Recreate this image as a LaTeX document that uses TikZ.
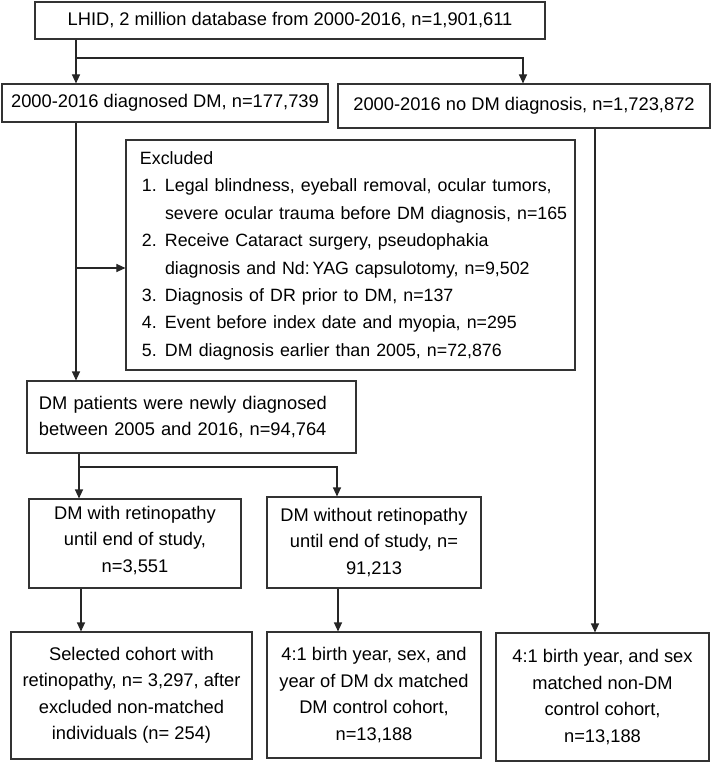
\documentclass[tikz,border=0pt]{standalone}
\usepackage{fontspec}
\setmainfont{Liberation Sans}
\usetikzlibrary{arrows.meta}
\begin{document}
\begin{tikzpicture}[x=1bp,y=-1bp,
  box/.style={draw=black!80, line width=1.1bp, inner sep=0pt,
    font=\fontsize{18.3bp}{26.5bp}\selectfont, align=center},
  leftbox/.style={box, align=left, inner xsep=#1},
  arr/.style={draw=black!85, line width=1.1bp, -{Triangle[length=9bp,width=8bp]}},
  ln/.style={draw=black!85, line width=1.1bp}]
\useasboundingbox (0,0) rectangle (712,762);

\node[box, minimum width=510bp, minimum height=37bp] (A) at (290,20.5)
  {LHID, 2 million database from 2000-2016, n=1,901,611};
\node[box, minimum width=326bp, minimum height=38bp] (B) at (165,103)
  {2000-2016 diagnosed DM, n=177,739};
\node[box, minimum width=372bp, minimum height=44bp] (C) at (524,106)
  {2000-2016 no DM diagnosis, n=1,723,872};

\node[leftbox=14bp, text width=421bp, minimum height=230bp] (D) at (350.5,255)
  {\noindent\makebox[0pt][l]{\fontsize{17.8bp}{27.4bp}\selectfont
   \begin{tabular}{@{}l@{}l@{}}
   \multicolumn{2}{@{}l@{}}{Excluded}\\
   \makebox[25bp][l]{\hspace{2bp}1.} & Legal blindness, eyeball removal, ocular tumors,\\
   & severe ocular trauma before DM diagnosis, n=165\\
   \makebox[25bp][l]{\hspace{2bp}2.} & Receive Cataract surgery, pseudophakia\\
   & diagnosis and Nd:\,YAG capsulotomy, n=9,502\\
   \makebox[25bp][l]{\hspace{2bp}3.} & Diagnosis of DR prior to DM, n=137\\
   \makebox[25bp][l]{\hspace{2bp}4.} & Event before index date and myopia, n=295\\
   \makebox[25bp][l]{\hspace{2bp}5.} & DM diagnosis earlier than 2005, n=72,876
   \end{tabular}}};

\node[leftbox=12bp, text width=305bp, minimum height=72bp] (E) at (191.5,417)
  {DM patients were newly diagnosed\\between 2005 and 2016, n=94,764};

\node[box, minimum width=212bp, minimum height=89bp, text depth=9bp] (F) at (135,543.5)
  {DM with retinopathy\\until end of study,\\n=3,551};
\node[box, minimum width=214bp, minimum height=91bp] (G) at (374,542.5)
  {DM without retinopathy\\until end of study, n=\\91,213};

\node[box, minimum width=241bp, minimum height=127bp] (H) at (131.5,695.5)
  {Selected cohort with\\retinopathy, n= 3,297, after\\excluded non-matched\\individuals (n= 254)};
\node[box, minimum width=214bp, minimum height=126bp] (I) at (374,695)
  {4:1 birth year, sex, and\\year of DM dx matched\\DM control cohort,\\n=13,188};
\node[box, minimum width=213bp, minimum height=128bp] (J) at (602.5,697)
  {4:1 birth year, and sex\\matched non-DM\\control cohort,\\n=13,188};

% connectors
\coordinate (s1) at (76,58);
\draw[arr] (76,0 |- A.south) -- (76,0 |- B.north);
\draw[arr] (s1) -- (523,58) -- (523,0 |- C.north);

\coordinate (s2) at (76,268);
\draw[arr] (76,0 |- B.south) -- (76,0 |- E.north);
\draw[arr] (s2) -- (s2 -| D.west);

\draw[arr] (595,0 |- C.south) -- (595,0 |- J.north);

\coordinate (s3) at (79,467);
\draw[arr] (79,0 |- E.south) -- (79,0 |- F.north);
\draw[arr] (s3) -- (337,467) -- (337,0 |- G.north);

\draw[arr] (81,0 |- F.south) -- (81,0 |- H.north);
\draw[arr] (338,0 |- G.south) -- (338,0 |- I.north);
\end{tikzpicture}
\end{document}
